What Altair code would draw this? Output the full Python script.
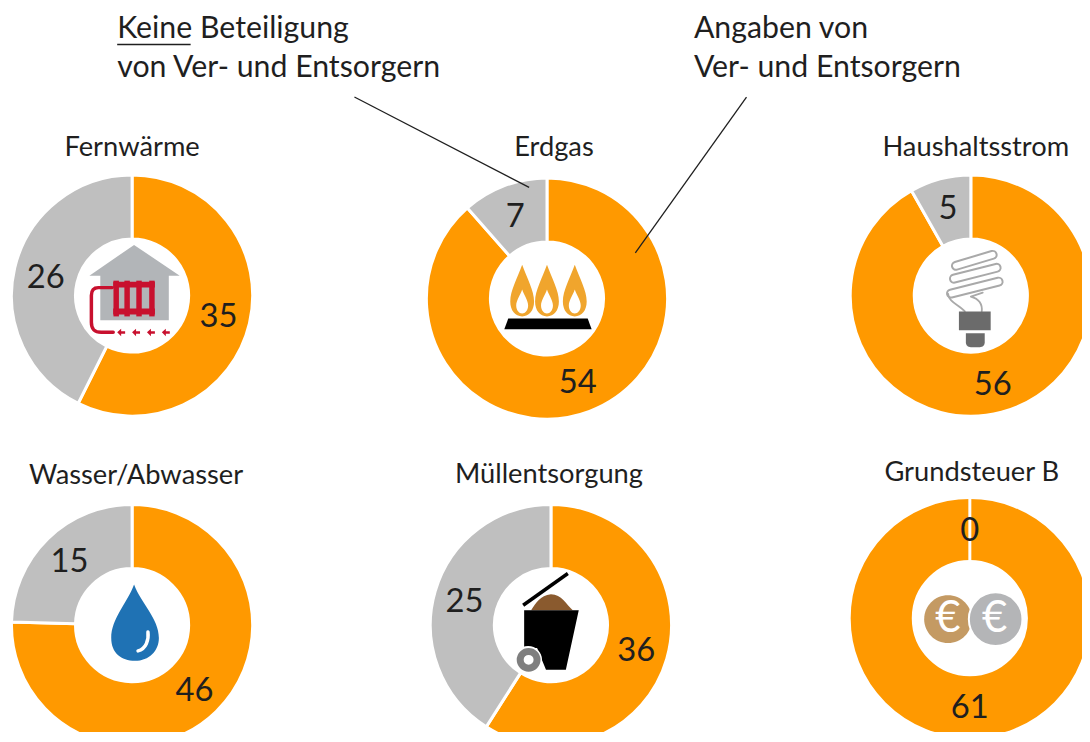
import altair as alt
import pandas as pd

# ---- values
charts = ["Fernwärme", "Erdgas", "Haushaltsstrom", "Wasser/Abwasser", "Müllentsorgung", "Grundsteuer B"]
angaben = [35, 54, 56, 46, 36, 61]
keine = [26, 7, 5, 15, 25, 0]
notes_left = ["Keine Beteiligung", "von Ver- und Entsorgern"]
notes_right = ["Angaben von", "Ver- und Entsorgern"]

# ---- layout (picture coordinates)
centres = [(133, 295), (551, 298), (978, 295), (133, 627), (555, 627), (977, 620)]
title_pos = [(133, 146), (558, 146), (983, 146), (137, 477), (553, 476), (979, 474)]
orange_pos = [(220, 317), (582, 383), (1000, 385), (196, 693), (641, 653), (977, 711)]
grey_pos = [(46, 277), (519, 216), (955, 208), (70, 564), (468, 604), (977, 532)]

ORANGE, GREY, INK = "#ff9900", "#bfbfbf", "#1f1f1f"
FONT = "Lato"
one = alt.Data(values=[{"k": 1}])
X = lambda v: alt.value(v - 8)
Y = lambda v: alt.value(v - 8)


def label(text, x, y, size, align="center", color=INK, weight="normal"):
    return alt.Chart(alt.Data(values=[{"t": str(text)}])).mark_text(
        font=FONT, fontSize=size, align=align, baseline="middle", color=color, fontWeight=weight
    ).encode(x=X(x), y=Y(y), text="t:N")


def line(x1, y1, x2, y2, color=INK, w=1.3):
    return alt.Chart(one).mark_rule(color=color, strokeWidth=w).encode(x=X(x1), x2=X(x2), y=Y(y1), y2=Y(y2))


def fill(path, color):
    return alt.Chart(one).mark_point(shape=path, size=4, filled=True, color=color, opacity=1, strokeWidth=0).encode(x=X(0), y=Y(0))


def stroke(path, color, w, cap="round"):
    return alt.Chart(one).mark_point(
        shape=path, size=4, filled=False, color=color, opacity=1, strokeWidth=w, strokeCap=cap, strokeJoin="round"
    ).encode(x=X(0), y=Y(0))


def disc(cx, cy, r, color, edge=None, w=0):
    kw = dict(stroke=edge, strokeWidth=w) if edge else {}
    return alt.Chart(one).mark_point(
        shape=f"M{cx-r} {cy}A{r} {r} 0 1 1 {cx+r} {cy}A{r} {r} 0 1 1 {cx-r} {cy}Z",
        size=4, filled=True, fill=color, opacity=1, **kw
    ).encode(x=X(0), y=Y(0))


def donut(i):
    df = pd.DataFrame({
        "part": ["Angaben", "Keine"],
        "value": [angaben[i], keine[i]],
        "idx": [0, 1],
    })
    total = angaben[i] + keine[i]
    cx, cy = centres[i]
    return alt.Chart(df).mark_arc(innerRadius=57, outerRadius=121.5, stroke="white", strokeWidth=3).encode(
        theta=alt.Theta("value:Q", stack=True, scale=alt.Scale(domain=[0, total])),
        color=alt.Color("part:N", scale=alt.Scale(domain=["Angaben", "Keine"], range=[ORANGE, GREY]), legend=None),
        order=alt.Order("idx:Q"),
        x=X(cx), y=Y(cy),
    )


layers = [donut(i) for i in range(6)]

# ---- Fernwärme icon
RED = "#c8102e"
layers.append(fill("M135 244L181 275L170 275L170 320L101 320L101 275L90 275Z", "#b2b5b8"))
for x in [117, 128, 140, 153]:
    layers.append(line(x, 280, x, 316, RED, 5.5))
layers.append(line(114, 284, 156, 284, RED, 6))
layers.append(line(114, 311, 156, 311, RED, 6))
layers.append(stroke("M113 287L99 287C94 287 92 290 92 295L92 322C92 329 95 332 102 332L114 332", RED, 3.5))
for x in [122, 137, 152, 167]:
    layers.append(fill(f"M{x-4} 332L{x} 328.5L{x} 331L{x+4} 331L{x+4} 333.5L{x} 333.5L{x} 336Z", RED))

# ---- Erdgas icon
for cx in [526, 551, 579]:
    layers.append(fill(f"M{cx} 264C{cx-5} 278 {cx-12} 290 {cx-12} 301C{cx-12} 310 {cx-7} 316 {cx} 316C{cx+7} 316 {cx+12} 310 {cx+12} 301C{cx+12} 290 {cx+5} 278 {cx} 264Z", "#f0a52d"))
    layers.append(fill(f"M{cx} 289C{cx-2} 295 {cx-6} 300 {cx-6} 305C{cx-6} 310 {cx-3} 313 {cx} 313C{cx+3} 313 {cx+6} 310 {cx+6} 305C{cx+6} 300 {cx+2} 295 {cx} 289Z", "white"))
layers.append(fill("M512 318L592 318L596 329L508 329Z", "#000000"))

# ---- Haushaltsstrom icon
COIL = "#a9a9a9"
SAUSAGES = [("963 265", "1000 254"), ("961 278", "1004 267"), ("958 293", "1006 281")]
for a, b in SAUSAGES:
    layers.append(stroke(f"M{a}L{b}", COIL, 10))
for a, b in SAUSAGES:
    layers.append(stroke(f"M{a}L{b}", "white", 6))
layers.append(stroke("M972 311C966 304 956 302 955 293", COIL, 1.8))
layers.append(stroke("M989 311C990 302 985 298 978 296L990 292", COIL, 1.8))
layers.append(fill("M966 311L998 311L998 330L966 330Z", "#6b6b6b"))
layers.append(fill("M973 333L992 333L992 342C992 345 990 347 987 347L978 347C975 347 973 345 973 342Z", "#6b6b6b"))

# ---- Wasser icon
layers.append(fill("M135 586C128 605 112 620 112 640C112 655 122 663 136 663C150 663 160 653 160 640C160 620 142 605 135 586Z", "#1f72b4"))
layers.append(stroke("M149 634C150 642 147 651 139 653", "white", 3.5))

# ---- Müll icon
layers.append(line(527, 607, 572, 575, "#000000", 3.5))
layers.append(fill("M535 612C540 605 544 597 555 596C566 596 570 606 577 612Z", "#8a5a2e"))
layers.append(fill("M528 612L583 612L570 672L550 672L541 650L528 650Z", "#000000"))
layers.append(disc(532, 662, 14, "white"))
layers.append(stroke("M524 662A8.5 8.5 0 1 1 541 662A8.5 8.5 0 1 1 524 662Z", "#7f7f7f", 7))

# ---- Grundsteuer icon
layers.append(disc(955, 621, 24, "#c49a63"))
layers.append(disc(1003, 621, 27, "#b4b5b7", "white", 2))
layers.append(label("€", 955, 621, 44, color="white"))
layers.append(label("€", 1002, 621, 44, color="white"))

# ---- texts
for i in range(6):
    layers.append(label(charts[i], *title_pos[i], 27.5))
    layers.append(label(angaben[i], *orange_pos[i], 33))
    layers.append(label(keine[i], *grey_pos[i], 33))
layers.append(label(notes_left[0], 118, 27, 30.5, "left"))
layers.append(label(notes_left[1], 118, 66, 30.5, "left"))
layers.append(label(notes_right[0], 699, 27, 30.5, "left"))
layers.append(label(notes_right[1], 699, 66, 30.5, "left"))
layers.append(line(118, 42, 192, 42, INK, 1.6))
layers.append(line(357, 95, 533, 186))
layers.append(line(752, 95, 640, 252))

chart = alt.layer(*layers).resolve_scale(theta="independent").properties(
    width=1082, height=724, padding=0, autosize=alt.AutoSizeParams(type="none"), background="white"
).configure_view(stroke=None)

chart.save("out.html", embed_options={"renderer": "svg", "actions": False})
